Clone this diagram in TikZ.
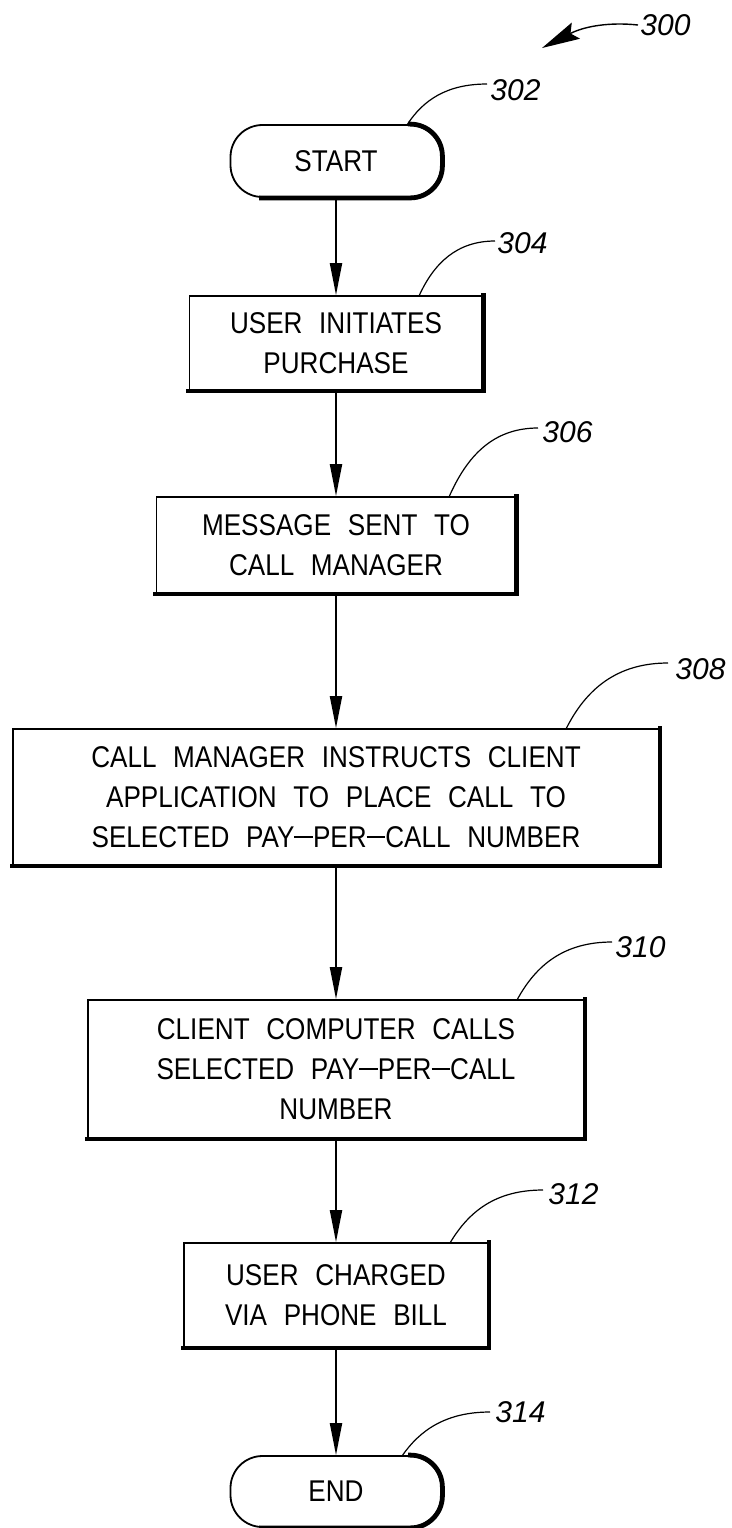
\documentclass[tikz,border=0pt]{standalone}
\usepackage{fontspec}
\setmainfont{Liberation Sans}
\newfontfamily\boxfont{Liberation Sans}[FakeStretch=0.87,WordSpace=2.3]
\usetikzlibrary{arrows.meta}
\newcommand{\pdash}{\rule[0.32em]{0.62em}{0.06em}}
\begin{document}
\begin{tikzpicture}[x=0.5pt,y=-0.5pt,
  box/.style={draw, line width=0.9pt, rectangle, align=center, inner sep=0pt,
    font=\boxfont\fontsize{15}{20}\selectfont},
  term/.style={box, rounded corners=16pt},
  shadowline/.style={line width=2.4pt, line cap=rect},
  flow/.style={line width=1pt, -{Triangle[length=16pt,width=6pt]}},
  leader/.style={line width=0.6pt},
  lbl/.style={font=\fontsize{15}{15}\selectfont\itshape, inner sep=1pt, anchor=west},
]
\useasboundingbox (0,0) rectangle (732,1528);

% flow nodes
\node[term, minimum width=105.5pt, minimum height=36pt] (start) at (336,161) {START};
\node[box, minimum width=146.5pt, minimum height=47pt] (b304) at (336,343) {USER INITIATES\\PURCHASE};
\node[box, minimum width=179.5pt, minimum height=48pt] (b306) at (336,545) {MESSAGE SENT TO\\CALL MANAGER};
\node[box, minimum width=323pt, minimum height=68pt] (b308) at (336,797) {CALL MANAGER INSTRUCTS CLIENT\\APPLICATION TO PLACE CALL TO\\SELECTED PAY\pdash PER\pdash CALL NUMBER};
\node[box, minimum width=248pt, minimum height=69pt] (b310) at (336,1069) {CLIENT COMPUTER CALLS\\SELECTED PAY\pdash PER\pdash CALL\\NUMBER};
\node[box, minimum width=152pt, minimum height=52pt] (b312) at (336,1295) {USER CHARGED\\VIA PHONE BILL};
\node[term, minimum width=105.5pt, minimum height=35.5pt] (stop) at (336,1491.5) {END};

% shadows
\foreach \n in {b304,b306,b308,b310,b312}
  \draw[shadowline] (\n.north east) -- (\n.south east) -- (\n.south west);
\foreach \n in {start,stop}
  \draw[shadowline, rounded corners=16pt] ([xshift=-16pt]\n.north east) -- (\n.north east) -- (\n.south east) -- ([xshift=16pt]\n.south west);

% flow arrows
\draw[flow] (start) -- (b304);
\draw[flow] (b304) -- (b306);
\draw[flow] (b306) -- (b308);
\draw[flow] (b308) -- (b310);
\draw[flow] (b310) -- (b312);
\draw[flow] (b312) -- (stop);

% reference labels
\node[lbl] (l300) at (638,25) {300};
\node[lbl] (l302) at (488,90) {302};
\node[lbl] (l304) at (495,243.5) {304};
\node[lbl] (l306) at (540,432.5) {306};
\node[lbl] (l308) at (673,669.5) {308};
\node[lbl] (l310) at (613,947.5) {310};
\node[lbl] (l312) at (546,1194) {312};
\node[lbl] (l314) at (493,1412.5) {314};

% figure arrow
\coordinate (tip300) at (542,48);
\draw[line width=0.7pt, -{Stealth[length=19pt,width=9pt,inset=3pt]}]
  (l300.west) .. controls (610,22) and (585,26) .. (tip300);

% leaders
\coordinate (s302) at (407,125); \coordinate (e302) at (487,84);
\draw[leader] (s302) .. controls (423,100) and (447,84) .. (e302);
\coordinate (s304) at (419,296); \coordinate (e304) at (495,241);
\draw[leader] (s304) .. controls (434,263) and (457,241) .. (e304);
\coordinate (s306) at (449,497); \coordinate (e306) at (538,428);
\draw[leader] (s306) .. controls (467,456) and (493,428) .. (e306);
\coordinate (s308) at (566,729); \coordinate (e308) at (668,663);
\draw[leader] (s308) .. controls (586,689) and (617,663) .. (e308);
\coordinate (s310) at (517,1000); \coordinate (e310) at (612,942);
\draw[leader] (s310) .. controls (536,965) and (564,942) .. (e310);
\coordinate (s312) at (450,1243); \coordinate (e312) at (543,1190);
\draw[leader] (s312) .. controls (469,1211) and (496,1190) .. (e312);
\coordinate (s314) at (402,1456); \coordinate (e314) at (490,1412);
\draw[leader] (s314) .. controls (420,1430) and (446,1412) .. (e314);
\end{tikzpicture}
\end{document}
